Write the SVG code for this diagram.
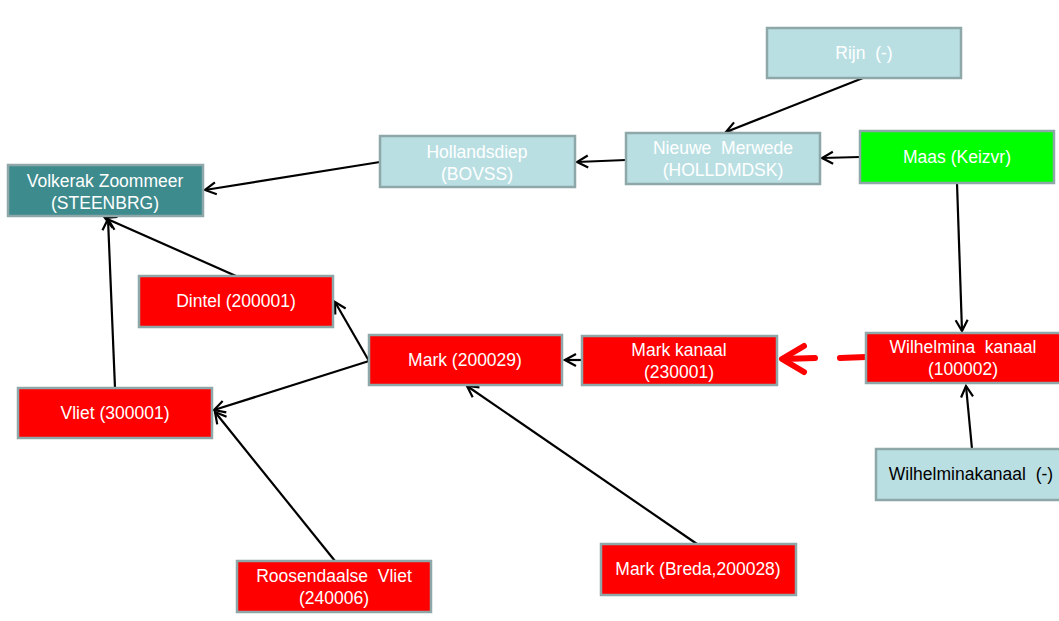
<svg xmlns="http://www.w3.org/2000/svg" width="1059" height="621" viewBox="0 0 1059 621">
<style>
.box{stroke:#8EA7A9;stroke-width:2.5}
.red{fill:#FF0000}
.lb{fill:#BADFE3}
.teal{fill:#3E8B8E}
.green{fill:#00FF00}
text{font-family:"Liberation Sans",Arial,sans-serif;font-size:17.5px;fill:#FFFFFF;text-anchor:middle;white-space:pre}
text.dark{fill:#000000}
.con{stroke:#000000;stroke-width:2.2;fill:none;marker-end:url(#arr)}
</style>
<defs>
<marker id="arr" viewBox="-13 -8 15 16" refX="0" refY="0" markerWidth="15" markerHeight="16" markerUnits="userSpaceOnUse" orient="auto">
<path d="M-11,-6 L0,0 L-11,6" fill="none" stroke="#000000" stroke-width="2.2"/>
</marker>
</defs>
<rect width="1059" height="621" fill="#FFFFFF"/>
<g id="connectors">
<line class="con" x1="863" y1="78" x2="726" y2="132"/>
<line class="con" x1="626" y1="160" x2="577" y2="162"/>
<line class="con" x1="860" y1="157" x2="822" y2="158"/>
<line class="con" x1="380" y1="162" x2="205" y2="190"/>
<line class="con" x1="236" y1="276" x2="105" y2="218"/>
<line class="con" x1="115" y1="388" x2="108" y2="219"/>
<line class="con" x1="369" y1="361" x2="335" y2="302"/>
<line class="con" x1="369" y1="361" x2="214" y2="410"/>
<line class="con" x1="335" y1="561" x2="215" y2="412"/>
<line class="con" x1="697" y1="544" x2="467" y2="386"/>
<line class="con" x1="582" y1="360" x2="565" y2="360"/>
<line class="con" x1="957" y1="183" x2="962" y2="331"/>
<line class="con" x1="972" y1="449" x2="966" y2="386"/>
<g id="red-dashed" stroke="#FF0000" stroke-width="6" fill="none" stroke-linecap="round">
<line x1="866" y1="357" x2="840" y2="358"/>
<line x1="815" y1="358" x2="784" y2="359"/>
<polyline points="804,346 782,359 804,372" stroke-linejoin="round"/>
</g>
</g>
<g id="rijn"><rect class="box lb" x="767" y="28" width="194" height="50"/><text x="864" y="59">Rijn  (-)</text></g>
<g id="nieuwe-merwede"><rect class="box lb" x="626" y="133" width="194" height="51"/><text x="723" y="154">Nieuwe  Merwede</text><text x="723" y="176">(HOLLDMDSK)</text></g>
<g id="maas"><rect class="box green" x="860" y="131" width="194" height="52"/><text x="957" y="163">Maas (Keizvr)</text></g>
<g id="hollandsdiep"><rect class="box lb" x="380" y="136" width="195" height="51"/><text x="477" y="158">Hollandsdiep</text><text x="477" y="180">(BOVSS)</text></g>
<g id="volkerak"><rect class="box teal" x="8" y="165" width="195" height="51"/><text x="105" y="187">Volkerak Zoommeer</text><text x="105" y="209">(STEENBRG)</text></g>
<g id="dintel"><rect class="box red" x="139" y="276" width="194" height="51"/><text x="236" y="307">Dintel (200001)</text></g>
<g id="mark-200029"><rect class="box red" x="369" y="335" width="193" height="50"/><text x="465" y="366">Mark (200029)</text></g>
<g id="mark-kanaal"><rect class="box red" x="582" y="336" width="195" height="49"/><text x="679" y="356">Mark kanaal</text><text x="679" y="378">(230001)</text></g>
<g id="wilhelmina-kanaal"><rect class="box red" x="866" y="333" width="196" height="50"/><text x="963" y="353">Wilhelmina  kanaal</text><text x="963" y="375">(100002)</text></g>
<g id="vliet"><rect class="box red" x="18" y="388" width="194" height="50"/><text x="115" y="419">Vliet (300001)</text></g>
<g id="wilhelminakanaal"><rect class="box lb" x="876" y="449" width="190" height="51"/><text class="dark" x="971" y="480">Wilhelminakanaal  (-)</text></g>
<g id="roosendaalse-vliet"><rect class="box red" x="237" y="561" width="194" height="51"/><text x="334" y="582">Roosendaalse  Vliet</text><text x="334" y="604">(240006)</text></g>
<g id="mark-breda"><rect class="box red" x="601" y="544" width="195" height="51"/><text x="698" y="575">Mark (Breda,200028)</text></g>
</svg>
